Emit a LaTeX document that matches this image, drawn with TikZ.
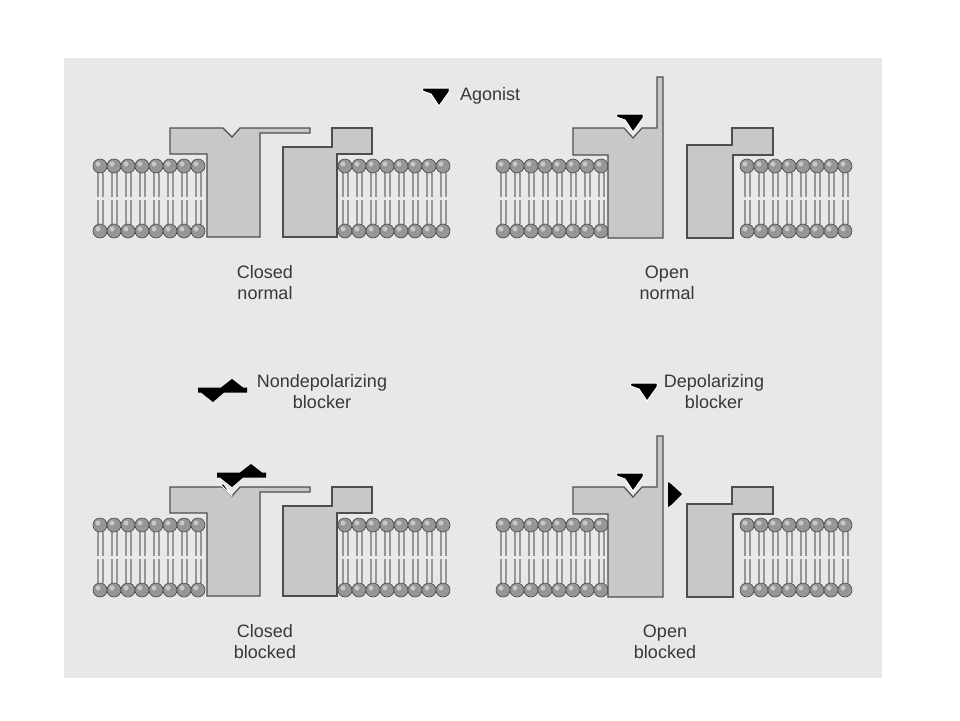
\documentclass[tikz,border=0pt]{standalone}
\usepackage{fontspec}
\setmainfont{Liberation Sans}
\definecolor{scan}{RGB}{232,232,232}
\definecolor{protein}{RGB}{200,200,200}
\definecolor{edge}{RGB}{78,78,78}
\definecolor{ink}{RGB}{56,56,56}
\definecolor{tailgray}{RGB}{150,150,150}
\definecolor{headgray}{RGB}{150,150,150}
\definecolor{headedge}{RGB}{70,70,70}
\definecolor{shinegray}{RGB}{200,200,200}

\begin{document}
\begin{tikzpicture}[x=1pt,y=-1pt,
  subunit/.style={fill=protein, draw=edge, line width=1.2pt},
  tail/.style={draw=tailgray, line width=2pt},
  lipidhead/.style={fill=headgray, draw=headedge, line width=0.6pt},
  shine/.style={fill=shinegray},
  lbl/.style={text=ink, align=center, inner sep=0pt, font=\fontsize{18}{21}\selectfont},
  agonist/.pic={\filldraw[black, draw=white, line width=1pt] (-13.5,0) -- (13.5,0) -- (13,4) -- (3,18) -- (-5,6) -- (-13.5,3) -- cycle;},
  ndblocker/.pic={\fill[black] (0,-2.5) -- (23,-2.5) -- (34,-11) -- (45,-2.5) -- (49,-2.5) -- (49,2.5) -- (26,2.5) -- (15,12) -- (3,2.5) -- (0,2.5) -- cycle;}]
\useasboundingbox (0,0) rectangle (960,720);
\fill[white] (0,0) rectangle (960,720);
\fill[scan] (64,58) rectangle (882,678);

% Lipid bilayers
\foreach \x/\y in {93/166, 338/166, 496/166, 740/166, 93/525, 338/525, 496/525, 740/525} {
  \foreach \k in {0,...,7} {
    \draw[tail] (\x+4.5+14*\k,\y+7) -- (\x+4.5+14*\k,\y+31);
    \draw[tail] (\x+9.5+14*\k,\y+7) -- (\x+9.5+14*\k,\y+31);
    \draw[tail] (\x+4.5+14*\k,\y+34) -- (\x+4.5+14*\k,\y+58);
    \draw[tail] (\x+9.5+14*\k,\y+34) -- (\x+9.5+14*\k,\y+58);
    \filldraw[lipidhead] (\x+7+14*\k,\y) circle (7);
    \filldraw[lipidhead] (\x+7+14*\k,\y+65) circle (7);
    \fill[shine] (\x+5+14*\k,\y-2) circle (2.5);
    \fill[shine] (\x+5+14*\k,\y+63) circle (2.5);
  }
}

% Closed normal
\draw[subunit] (170,128) -- (223,128) -- (232,137) -- (240,128) -- (310,128) -- (310,133) -- (260,133) -- (260,237) -- (207,237) -- (207,154) -- (170,154) -- cycle;
\draw[subunit] (283,147) -- (332,147) -- (332,128) -- (372,128) -- (372,154) -- (337,154) -- (337,237) -- (283,237) -- cycle;
\pic at (436,88) {agonist};
\node[lbl, anchor=west] (agonistlbl) at (460,96) {Agonist};
\node[lbl] (closednormal) at (265,283) {Closed\\normal};

% Open normal
\draw[subunit] (573,128) -- (624,128) -- (633,138) -- (642,128) -- (657,128) -- (657,77) -- (663,77) -- (663,238) -- (608,238) -- (608,155) -- (573,155) -- cycle;
\draw[subunit] (687,145) -- (732,145) -- (732,128) -- (773,128) -- (773,155) -- (733,155) -- (733,238) -- (687,238) -- cycle;
\pic at (630,114) {agonist};
\node[lbl] (opennormal) at (667,283) {Open\\normal};

% Closed blocked
\pic at (198,390) {ndblocker};
\node[lbl] (ndblockerlbl) at (322,392) {Nondepolarizing\\blocker};
\draw[subunit] (170,487) -- (223,487) -- (232,496) -- (240,487) -- (310,487) -- (310,492) -- (260,492) -- (260,596) -- (207,596) -- (207,513) -- (170,513) -- cycle;
\draw[subunit] (283,506) -- (332,506) -- (332,487) -- (372,487) -- (372,513) -- (337,513) -- (337,596) -- (283,596) -- cycle;
\filldraw[draw=white, line width=1pt, fill=black] (232,496) -- (224,484) -- (220,484) -- cycle;
\pic at (217,475) {ndblocker};
\node[lbl] (closedblocked) at (265,642) {Closed\\blocked};

% Open blocked
\pic at (644,383) {agonist};
\node[lbl] (dblockerlbl) at (714,392) {Depolarizing\\blocker};
\draw[subunit] (573,487) -- (624,487) -- (633,497) -- (642,487) -- (657,487) -- (657,436) -- (663,436) -- (663,597) -- (608,597) -- (608,514) -- (573,514) -- cycle;
\draw[subunit] (687,504) -- (732,504) -- (732,487) -- (773,487) -- (773,514) -- (733,514) -- (733,597) -- (687,597) -- cycle;
\pic at (630,473) {agonist};
\fill[black] (668,482) -- (671,484) -- (682,494) -- (671,505) -- (668,507) -- cycle;
\node[lbl] (openblocked) at (665,642) {Open\\blocked};
\end{tikzpicture}
\end{document}
